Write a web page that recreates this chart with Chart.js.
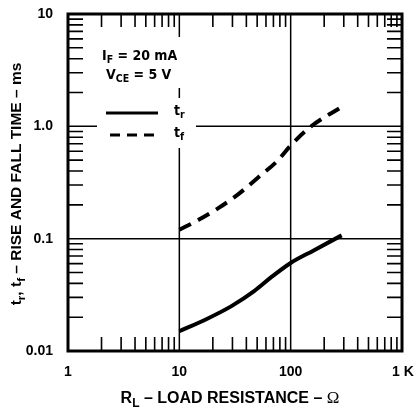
<!DOCTYPE html>
<html>
<head>
<meta charset="utf-8">
<script src="https://cdn.jsdelivr.net/npm/chart.js@4"></script>
<style>
  html, body { margin: 0; padding: 0; background: #fff; }
  canvas { display: block; }
</style>
</head>
<body>
<canvas id="riseFall" width="415" height="413"></canvas>
<script>
// values
var resistanceRise = [10, 17.1, 29.4, 47.3, 66.5, 100, 161, 287];
var riseTime       = [0.0150, 0.0190, 0.0251, 0.0343, 0.0452, 0.0608, 0.0786, 0.107];
var resistanceFall = [10, 14.9, 22.4, 33.7, 50.7, 76.2, 100, 150, 287];
var fallTime       = [0.120, 0.147, 0.187, 0.248, 0.349, 0.494, 0.674, 0.986, 1.49];

var xDecades = [1, 10, 100, 1000];
var xTickLabels = ['1', '10', '100', '1 K'];
var yDecades = [0.01, 0.1, 1, 10];
var yTickLabels = ['0.01', '0.1', '1.0', '10'];
var minorSteps = [2, 3, 4, 5, 6, 7, 8, 9];

var FONT = '"Liberation Sans", Arial, sans-serif';
var NOTE_FONT = '"DejaVu Sans Condensed", "Liberation Sans", sans-serif';

function toPoints(xs, ys){
    var pts = [];
    for(var i=0; i<xs.length; i++){
        pts.push({x: xs[i], y: ys[i]});
    }
    return pts;
}

// text made of [text, isSub, font?] pieces
function partFont(p, size, family){
    if(p[2]) return p[2];
    return 'bold ' + (p[1] ? size*0.75 : size) + 'px ' + (family || FONT);
}
function richWidth(ctx, parts, size, family){
    var w = 0;
    for(var i in parts){
        ctx.font = partFont(parts[i], size, family);
        w += ctx.measureText(parts[i][0]).width;
    }
    return w;
}
function drawRich(ctx, parts, x, y, size, family){
    for(var i in parts){
        ctx.font = partFont(parts[i], size, family);
        ctx.fillText(parts[i][0], x, parts[i][1] ? y + size*0.3 : y);
        x += ctx.measureText(parts[i][0]).width;
    }
}

var paperPlugin = {
    id: 'paper',
    beforeDatasetsDraw: function(chart){
        var ctx = chart.ctx;
        var xs = chart.scales.x, ys = chart.scales.y;
        var a = chart.chartArea;
        ctx.save();
        ctx.strokeStyle = '#000';
        ctx.lineWidth = 1.5;
        // decade grid, with gaps round the legend box
        var x10 = xs.getPixelForValue(10), x100 = xs.getPixelForValue(100);
        var y1 = ys.getPixelForValue(1), y01 = ys.getPixelForValue(0.1);
        ctx.beginPath();
        ctx.moveTo(x10, a.top); ctx.lineTo(x10, 37);
        ctx.moveTo(x10, 88); ctx.lineTo(x10, 98);
        ctx.moveTo(x10, 148); ctx.lineTo(x10, a.bottom);
        ctx.moveTo(x100, a.top); ctx.lineTo(x100, a.bottom);
        ctx.moveTo(a.left, y1); ctx.lineTo(97, y1);
        ctx.moveTo(196, y1); ctx.lineTo(a.right, y1);
        ctx.moveTo(a.left, y01); ctx.lineTo(a.right, y01);
        ctx.stroke();

        // minor ticks pointing inwards on all four sides
        ctx.lineWidth = 1.6;
        ctx.beginPath();
        for(var d=0; d<xDecades.length-1; d++){
            for(var m in minorSteps){
                var px = xs.getPixelForValue(xDecades[d]*minorSteps[m]);
                ctx.moveTo(px, a.bottom); ctx.lineTo(px, a.bottom - 14);
                ctx.moveTo(px, a.top); ctx.lineTo(px, a.top + 13);
            }
        }
        for(var d=0; d<yDecades.length-1; d++){
            for(var m in minorSteps){
                var py = ys.getPixelForValue(yDecades[d]*minorSteps[m]);
                ctx.moveTo(a.left, py); ctx.lineTo(a.left + 15, py);
                ctx.moveTo(a.right, py); ctx.lineTo(a.right - 15, py);
            }
        }
        ctx.stroke();
        ctx.restore();
    },
    afterDraw: function(chart){
        var ctx = chart.ctx;
        var xs = chart.scales.x, ys = chart.scales.y;
        var a = chart.chartArea;
        ctx.save();
        ctx.strokeStyle = '#000';
        ctx.fillStyle = '#000';
        ctx.lineWidth = 3;
        ctx.strokeRect(a.left, a.top, a.right - a.left, a.bottom - a.top);

        // tick labels
        ctx.font = 'bold 14px ' + FONT;
        ctx.textAlign = 'right';
        ctx.textBaseline = 'middle';
        for(var i in yDecades){
            ctx.fillText(yTickLabels[i], 53, ys.getPixelForValue(yDecades[i]));
        }
        ctx.textAlign = 'center';
        for(var i in xDecades){
            var px = xs.getPixelForValue(xDecades[i]);
            if(i == xDecades.length-1) px = 403;
            ctx.fillText(xTickLabels[i], px, 372);
        }

        // x title
        ctx.textAlign = 'left';
        ctx.textBaseline = 'middle';
        var xt = [['R', false], ['L', true], [' \u2013 LOAD RESISTANCE \u2013 ', false], ['\u03A9', false, '17px "Liberation Serif", serif']];
        var w = richWidth(ctx, xt, 16);
        drawRich(ctx, xt, 230 - w/2, 399, 16);

        // y title (rotated)
        ctx.save();
        ctx.translate(17, 184);
        ctx.rotate(-Math.PI/2);
        var yt = [['t', false], ['r', true], [', t', false], ['f', true], [' \u2013 RISE AND FALL TIME \u2013 ms', false]];
        w = richWidth(ctx, yt, 15.5);
        drawRich(ctx, yt, -w/2, 0, 15.5);
        ctx.restore();

        // conditions and legend
        drawRich(ctx, [['I', false], ['F', true], [' = 20 mA', false]], 102, 56, 14, NOTE_FONT);
        drawRich(ctx, [['V', false], ['CE', true], [' = 5 V', false]], 106, 75, 14, NOTE_FONT);
        drawRich(ctx, [['t', false], ['r', true]], 174, 111, 14, NOTE_FONT);
        drawRich(ctx, [['t', false], ['f', true]], 174, 133, 14, NOTE_FONT);

        ctx.lineWidth = 3;
        ctx.beginPath();
        ctx.moveTo(106, 113); ctx.lineTo(158, 113);
        ctx.stroke();
        ctx.setLineDash([10, 7]);
        ctx.beginPath();
        ctx.moveTo(110, 135); ctx.lineTo(158, 135);
        ctx.stroke();
        ctx.restore();
    }
};

var ctx = document.getElementById('riseFall').getContext('2d');
var chart = new Chart(ctx, {
    type: 'line',
    data: {
        datasets: [{
            label: 'tr',
            data: toPoints(resistanceRise, riseTime),
            borderColor: '#000',
            borderWidth: 4,
            pointRadius: 0,
            cubicInterpolationMode: 'monotone',
            fill: false
        }, {
            label: 'tf',
            data: toPoints(resistanceFall, fallTime),
            borderColor: '#000',
            borderWidth: 4,
            borderDash: [13, 8],
            pointRadius: 0,
            cubicInterpolationMode: 'monotone',
            fill: false
        }]
    },
    options: {
        responsive: false,
        animation: false,
        events: [],
        layout: { padding: { left: 68, right: 13, top: 14, bottom: 62 } },
        plugins: {
            legend: { display: false },
            tooltip: { enabled: false }
        },
        scales: {
            x: { type: 'logarithmic', min: 1, max: 1000, display: false },
            y: { type: 'logarithmic', min: 0.01, max: 10, display: false }
        }
    },
    plugins: [paperPlugin]
});
</script>
</body>
</html>
